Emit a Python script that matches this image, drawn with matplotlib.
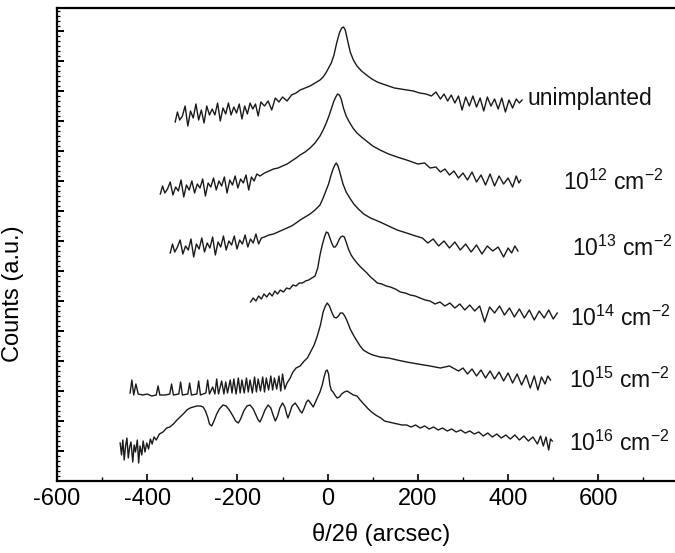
import matplotlib
matplotlib.use("Agg")
import matplotlib.pyplot as plt
from matplotlib.ticker import MultipleLocator

plt.rcParams['font.family'] = ['Liberation Sans', 'DejaVu Sans']
plt.rcParams['mathtext.default'] = 'regular'

# ---- data (theta/2theta in arcsec, intensity in a.u. incl. vertical offset) ----
x_unimpl = [-338, -333, -328, -322, -316, -310, -304, -298, -292, -286, -280, -274, -268, -262, -256, -250,
            -244, -238, -232, -226, -220, -214, -208, -202, -196, -190, -184, -178, -172, -166, -160, -154, -148,
            -140, -132, -124, -116, -108, -100, -90, -80, -70, -61, -50, -39, -28, -17, -10, -4,
            2, 8, 14, 20, 26, 31, 35, 39, 44, 50, 57, 65, 75, 86, 98, 110, 122, 135, 148, 162, 176, 190, 204, 218, 230,
            240, 250, 258, 266, 274, 282, 290, 298, 306, 314, 322, 330, 338, 346, 354, 362, 370, 378, 386, 394, 402,
            410, 418, 425, 431]
y_unimpl = [359, 369, 361, 365, 375, 355, 370, 363, 377, 361, 371, 358, 375, 366, 372, 366, 378, 360, 373, 367,
            378, 366, 374, 368, 377, 362, 375, 367, 378, 372, 377, 365, 379,
            375, 380, 371, 383, 379, 384, 380, 386, 388, 391, 393, 395, 398, 401, 404, 408,
            413, 418, 426, 438, 448, 453, 454, 451, 441, 429, 421, 415, 410, 406, 402, 399, 397, 395, 393, 392, 391,
            390, 388, 387, 385,
            389, 382, 387, 380, 386, 378, 385, 371, 384, 375, 385, 374, 383, 370, 384, 375, 382, 372, 383, 369, 381,
            373, 382, 378, 381]

x_1e12 = [-371, -366, -361, -355, -349, -343, -337, -331, -325, -319, -313, -307, -301, -295, -289, -283, -277,
          -271, -265, -259, -253, -247, -241, -235, -229, -223, -217, -211, -205, -199, -193, -187, -181, -175,
          -169, -163, -157,
          -150, -140, -130, -120, -110, -100, -90, -80, -70, -61, -50, -39, -28, -17, -10, -4,
          2, 8, 13, 18, 22, 26, 30, 35, 41, 48, 56, 65, 75, 86, 100, 116, 135, 154, 175, 200,
          215, 227, 240, 250, 260, 270, 280, 290, 300, 310, 320, 330, 340, 350, 360, 370, 380, 390, 400, 410,
          418, 424, 428]
y_1e12 = [287, 295, 288, 292, 299, 286, 294, 290, 301, 284, 296, 291, 300, 288, 297, 293, 302, 285, 298, 294,
          303, 291, 300, 295, 304, 288, 301, 296, 305, 293, 302, 298, 306, 291, 304, 300, 307,
          305, 308, 310, 312, 313, 315, 317, 320, 323, 326, 329, 333, 338, 345, 351, 357,
          364, 372, 379, 384, 387, 386, 382, 373, 365, 359, 353, 348, 344, 340, 335, 331, 327, 324, 321, 317,
          318, 313, 314, 309, 312, 306, 310, 303, 308, 301, 309, 299, 306, 296, 307, 295, 305, 297, 303, 294,
          305, 298, 301]

x_1e13 = [-349, -344, -339, -333, -327, -321, -315, -309, -303, -297, -291, -285, -279, -273, -267, -261, -255,
          -249, -243, -237, -231, -225, -219, -213, -207, -201, -195, -189, -183, -177, -171, -165, -159, -153, -147,
          -140, -130, -120, -110, -100, -90, -80, -70, -61, -50, -39, -28, -17, -10, -4,
          2, 7, 12, 16, 19, 23, 28, 34, 41, 49, 58, 68, 80, 95, 116, 135, 154, 175, 195,
          210, 222, 234, 246, 258, 270, 282, 294, 306, 318, 330, 342, 354, 366, 378, 390, 400, 408, 415, 422]
y_1e13 = [228, 237, 229, 234, 241, 227, 235, 231, 242, 224, 237, 232, 243, 229, 238, 233, 244, 226, 239, 234,
          245, 231, 240, 236, 245, 232, 241, 237, 246, 234, 242, 238, 247, 237, 243,
          244, 246, 247, 249, 251, 253, 255, 258, 261, 264, 267, 271, 276, 283, 290,
          297, 305, 312, 316, 318, 315, 307, 297, 289, 283, 277, 272, 267, 263, 259, 255, 251, 248, 245,
          243, 238, 242, 235, 240, 233, 239, 231, 237, 229, 236, 227, 235, 230, 234, 224, 233, 228, 235, 230]

x_1e14 = [-171, -165, -159, -153, -147, -141, -135, -129, -123, -117, -111, -105,
          -98, -91, -84, -77, -70, -63, -56, -49, -42, -35, -28,
          -22, -17, -12, -7, -3, 1, 5, 9, 13, 17, 21, 25, 29, 33, 37, 41, 46, 52, 58, 65, 73, 80, 87, 95, 103, 110,
          120, 130, 139, 150, 161, 172, 183, 194, 205, 216, 227, 238, 249, 260, 271, 282, 293, 304, 315, 326,
          337, 348, 359, 370, 381, 392, 403, 414, 425, 436, 447, 458, 469, 480, 490, 500, 509]
y_1e14 = [179, 183, 180, 185, 182, 187, 184, 188, 185, 190, 187, 191,
          189, 193, 192, 196, 195, 198, 198, 200, 201, 203, 205,
          213, 226, 236, 244, 249, 248, 243, 238, 234, 234, 237, 241, 244, 245, 244, 239, 232, 226, 222, 218,
          214, 211, 208, 204, 201, 198,
          197, 195, 194, 192, 189, 188, 186, 185, 183, 181, 180, 177, 179, 175, 178, 173, 177, 171, 176, 170,
          175, 159, 174, 168, 175, 166, 173, 164, 172, 163, 171, 161, 170, 163, 171, 162, 168]

x_1e15 = [-438, -434, -430, -425, -420, -410, -400, -390, -380, -376,
          -372, -360, -350, -346, -342, -330, -326, -322, -310, -306,
          -302, -290, -286, -282, -270, -266, -262, -255, -250, -246,
          -242, -235, -230, -226, -222, -216, -212, -208, -203, -198,
          -194, -190, -185, -180, -176, -172, -167, -162, -158, -154,
          -149, -144, -140, -136, -131, -126, -122, -118, -113, -108,
          -104, -100, -95, -90, -83, -77, -70, -61, -52, -45,
          -38, -30, -23, -16, -10, -5, -1, 4, 9, 14,
          19, 24, 28, 33, 38, 44, 50, 57, 65, 72,
          79, 90, 100, 116, 135, 154, 175, 200, 227, 250,
          270, 290, 300, 310, 320, 330, 340, 350, 360, 370,
          380, 390, 400, 410, 420, 430, 440, 449, 458, 466,
          474, 482, 488, 494]
y_1e15 = [88, 101, 86, 97, 87, 86, 87, 85, 86, 95,
          86, 86, 87, 97, 86, 87, 99, 86, 87, 98,
          86, 87, 100, 86, 88, 101, 87, 94, 87, 102,
          87, 100, 87, 99, 88, 101, 88, 102, 87, 103,
          88, 101, 88, 103, 89, 101, 88, 104, 89, 102,
          90, 104, 89, 103, 91, 105, 91, 103, 92, 105,
          90, 107, 92, 98, 103, 109, 113, 115, 120, 123,
          129, 136, 145, 156, 169, 175, 178, 175, 169, 164,
          163, 165, 168, 168, 165, 159, 152, 146, 140, 135,
          131, 128, 126, 124, 123, 121, 119, 117, 115, 113,
          115, 110, 113, 107, 112, 105, 111, 103, 110, 102,
          109, 100, 108, 98, 107, 96, 106, 93, 105, 91,
          104, 97, 105, 101]

x_1e16 = [-460, -457, -454, -451, -448, -445, -442, -439, -436, -432,
          -429, -426, -422, -419, -416, -412, -409, -405, -401, -397,
          -393, -389, -385, -380, -373, -365, -357, -350, -342, -334,
          -325, -318, -312, -305, -298, -290, -282, -276, -271, -266,
          -262, -257, -252, -246, -240, -232, -225, -218, -210, -204,
          -198, -193, -186, -179, -172, -165, -159, -154, -150, -145,
          -139, -132, -126, -121, -116, -111, -106, -100, -95, -91,
          -88, -84, -79, -72, -66, -61, -57, -52, -47, -43,
          -38, -32, -27, -22, -17, -12, -8, -4, -1, 2,
          5, 8, 12, 16, 21, 26, 31, 37, 43, 50,
          57, 65, 72, 80, 88, 95, 103, 110, 118, 126,
          135, 145, 155, 165, 175, 185, 195, 205, 215, 225,
          235, 245, 255, 265, 275, 285, 295, 305, 315, 325,
          335, 345, 355, 365, 375, 385, 395, 405, 415, 425,
          435, 445, 455, 465, 472, 478, 484, 490, 494, 498]
y_1e16 = [38, 26, 41, 21, 35, 43, 23, 34, 39, 19,
          36, 29, 41, 18, 35, 26, 40, 29, 38, 32,
          42, 37, 44, 41, 47, 49, 53, 54, 57, 61,
          65, 68, 71, 73, 74, 75, 75, 74, 70, 64,
          57, 55, 60, 67, 72, 76, 75, 71, 65, 60,
          58, 62, 70, 75, 76, 72, 66, 61, 59, 64,
          71, 76, 73, 66, 60, 65, 73, 78, 74, 67,
          63, 68, 75, 78, 74, 70, 68, 73, 79, 81,
          78, 74, 79, 84, 89, 96, 104, 110, 111, 107,
          96, 91, 89, 86, 83, 84, 87, 89, 90, 88,
          86, 85, 81, 77, 73, 70, 67, 65, 63, 60,
          59, 58, 57, 56, 56, 54, 56, 53, 55, 52,
          54, 51, 53, 50, 52, 49, 51, 48, 50, 47,
          49, 45, 48, 44, 47, 43, 46, 42, 46, 41,
          45, 40, 44, 37, 45, 35, 44, 31, 42, 40]

curve_labels = ['unimplanted', r'$10^{12}$ cm$^{-2}$', r'$10^{13}$ cm$^{-2}$',
                r'$10^{14}$ cm$^{-2}$', r'$10^{15}$ cm$^{-2}$', r'$10^{16}$ cm$^{-2}$']
label_x = [443, 522, 542, 538, 534, 534]
label_y = [382, 299, 233, 163, 101, 38]

xticks = [-600, -400, -200, 0, 200, 400, 600]
xtick_labels = ['-600', '-400', '-200', '0', '200', '400', '600']

# ---- figure ----
W, H = 675, 553
fig = plt.figure(figsize=(W / 100, H / 100), dpi=100)
ax = fig.add_axes([57 / W, (H - 481) / H, 618 / W, 473 / H])

curves = [(x_unimpl, y_unimpl), (x_1e12, y_1e12), (x_1e13, y_1e13),
          (x_1e14, y_1e14), (x_1e15, y_1e15), (x_1e16, y_1e16)]
for xs, ys in curves:
    ax.plot(xs, ys, color='#1a1a1a', lw=1.0)

for txt, lx, ly in zip(curve_labels, label_x, label_y):
    ax.text(lx, ly, txt, fontsize=16.5, ha='left', va='center', color='#111111')

ax.set_xlim(-600, 770)
ax.set_ylim(0, 473)
ax.set_xticks(xticks)
ax.set_xticklabels(xtick_labels)
ax.xaxis.set_minor_locator(MultipleLocator(100))
ax.yaxis.set_major_locator(MultipleLocator(30))
ax.yaxis.set_minor_locator(MultipleLocator(5))
ax.set_yticklabels([])
ax.tick_params(axis='x', which='major', direction='in', length=5, width=1.2, labelsize=17, pad=5)
ax.tick_params(axis='x', which='minor', direction='in', length=3, width=1)
ax.tick_params(axis='y', which='major', direction='in', length=5, width=1.4)
ax.tick_params(axis='y', which='minor', direction='in', length=2.5, width=0.9)
ax.tick_params(top=False, right=False, which='both')

for side in ['left', 'bottom', 'top']:
    ax.spines[side].set_linewidth(1.6)
ax.spines['right'].set_visible(False)

ax.set_xlabel('θ/2θ (arcsec)', fontsize=17)
ax.xaxis.set_label_coords((381 - 57) / 618, -(523 - 481) / 473)
ax.set_ylabel('Counts (a.u.)', fontsize=17)
ax.yaxis.set_label_coords(-(57 - 24) / 618, (481 - 294) / 473)

fig.savefig('out.png', dpi=100)
